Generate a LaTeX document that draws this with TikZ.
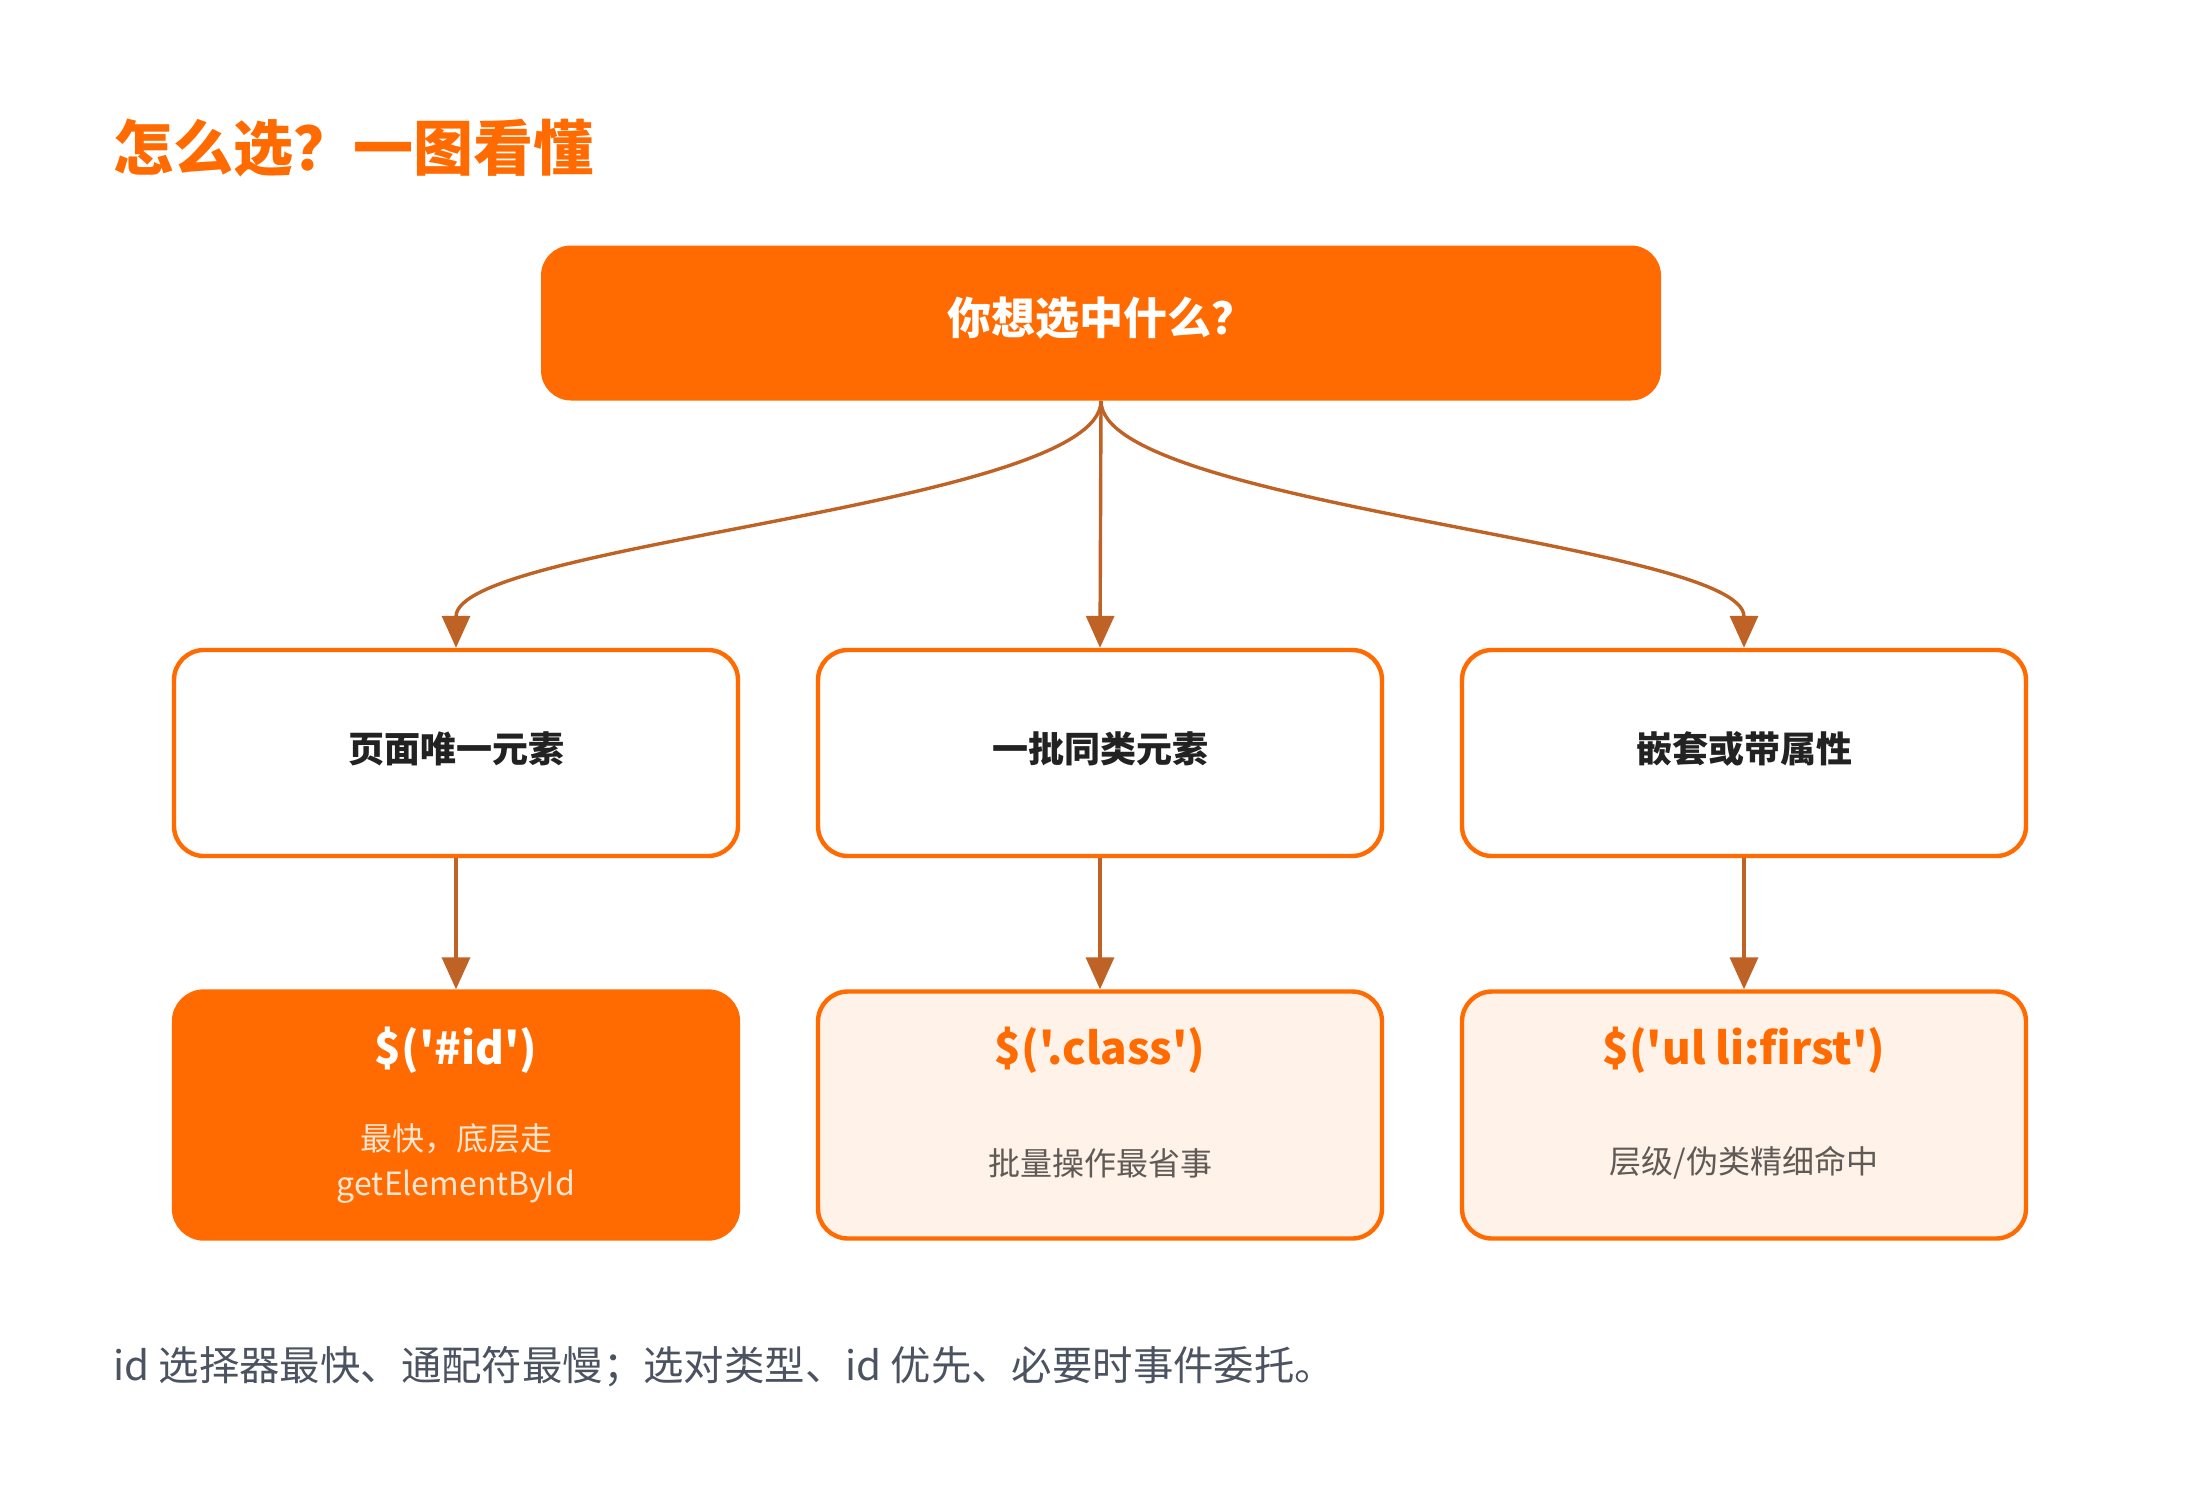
\documentclass[tikz,border=0pt]{standalone}
\usepackage{fontspec}
\setmainfont{Noto Sans CJK SC}[Ligatures=TeXOff]
\usetikzlibrary{arrows.meta}
\definecolor{orng}{HTML}{FF6B00}
\definecolor{brwn}{HTML}{BF6226}
\definecolor{peach}{HTML}{FFF2E8}
\definecolor{ink}{HTML}{222222}
\definecolor{note}{HTML}{5F5A56}
\definecolor{pale}{HTML}{FFE6D2}
\definecolor{foot}{HTML}{4B5260}

\begin{document}
\begin{tikzpicture}[x = 0.5pt, y = -0.5pt,
		box/.style = {rounded corners = 15pt, inner sep = 0pt, minimum width = 282pt},
		askbox/.style = {box, fill = orng, minimum width = 560pt, minimum height = 77.5pt},
		midbox/.style = {box, draw = orng, line width = 2.2pt, fill = white, minimum height = 103pt},
		pickbox/.style = {box, draw = orng, line width = 2.2pt, fill = peach, minimum height = 123.5pt},
		ask/.style = {inner sep = 0pt, text = white, font = \bfseries\fontsize{22}{26}\selectfont},
		kind/.style = {inner sep = 0pt, text = ink, font = \bfseries\fontsize{18}{22}\selectfont},
		code/.style = {inner sep = 0pt, text = orng, font = \bfseries\fontsize{22}{26}\selectfont},
		sub/.style = {inner sep = 0pt, align = center, text = note, font = \fontsize{16}{22.5}\selectfont},
		link/.style = {brwn, line width = 1.7pt, -{Triangle[width = 14pt, length = 16pt]}}]
		\useasboundingbox (0, 0) rectangle (2200, 1488);
		%%%%%%%%%%%%%
		\node [anchor = west, inner sep = 0pt, text = orng, font = \bfseries\fontsize{30}{36}\selectfont] (title) at (113, 148) {怎么选？一图看懂};
		\node [askbox] (q) at (1101, 323) {};
		\node [ask] (qt) at (1101, 318) {你想选中什么？};
		%%%%%%%%%%%%%
		\node [midbox] (m1) at (456, 753) {};
		\node [midbox] (m2) at (1100, 753) {};
		\node [midbox] (m3) at (1744, 753) {};
		\node [kind] (k1) at (456, 749) {页面唯一元素};
		\node [kind] (k2) at (1100, 749) {一批同类元素};
		\node [kind] (k3) at (1744, 749) {嵌套或带属性};
		%%%%%%%%%%%%%
		\node [pickbox, fill = orng] (b1) at (456, 1115) {};
		\node [pickbox] (b2) at (1100, 1115) {};
		\node [pickbox] (b3) at (1744, 1115) {};
		\node [code, text = white] (c1) at (456, 1050) {\$('\#id')};
		\node [code] (c2) at (1100, 1050) {\$('.class')};
		\node [code] (c3) at (1744, 1050) {\$('ul li:first')};
		\node [sub, text = pale] (s1) at (456, 1163) {最快，底层走\\getElementById};
		\node [sub] (s2) at (1100, 1163) {批量操作最省事};
		\node [sub] (s3) at (1744, 1163) {层级/伪类精细命中};
		%%%%%%%%%%%%%
		\node [anchor = west, inner sep = 0pt, text = foot, font = \fontsize{20.2}{24}\selectfont] (tip) at (113, 1367) {id 选择器最快、通配符最慢；选对类型、id 优先、必要时事件委托。};
		%%%%%%%%%%%%%
		\draw [link] (q.south) .. controls +(0, 105) and +(0, -105) .. (m1.north);
		\draw [link] (q.south) -- (m2.north);
		\draw [link] (q.south) .. controls +(0, 105) and +(0, -105) .. (m3.north);
		\draw [link] (m1.south) -- (b1.north); \draw [link] (m2.south) -- (b2.north);
		\draw [link] (m3.south) -- (b3.north);
\end{tikzpicture}
\end{document}
